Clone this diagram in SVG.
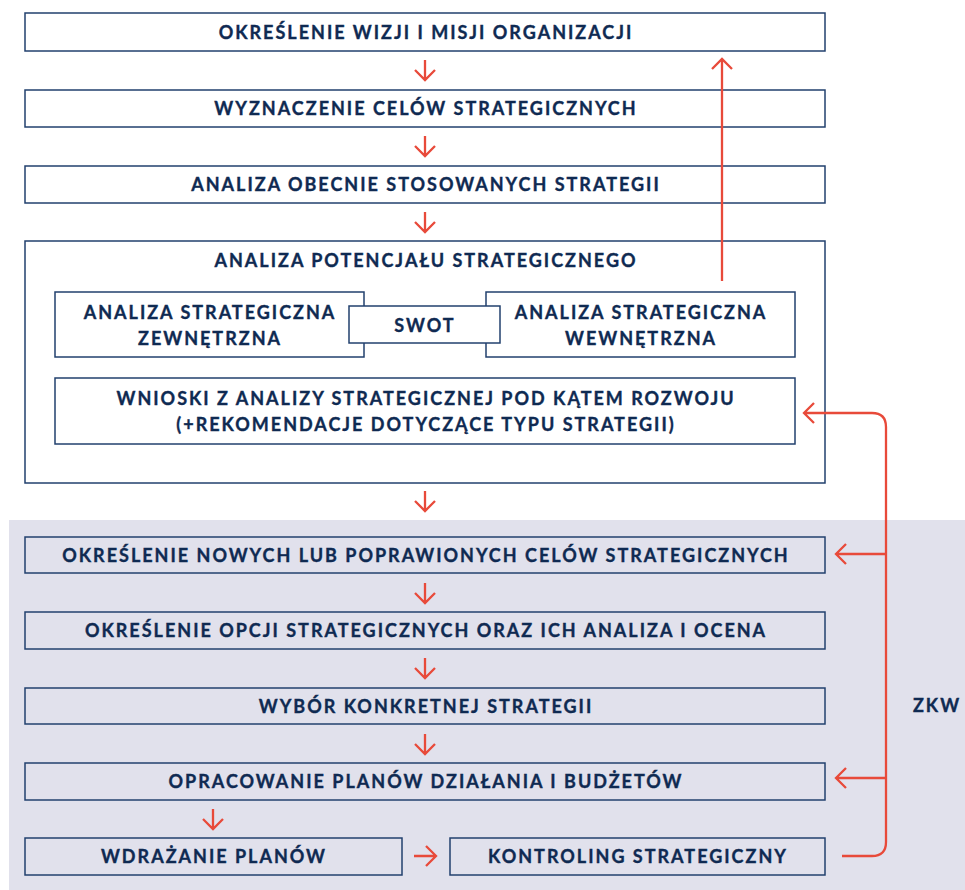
<svg xmlns="http://www.w3.org/2000/svg" width="965" height="890" viewBox="0 0 965 890">
<style>
.box{fill:#fff;stroke:#22406e;stroke-width:1.5}
.sbox{fill:#e1e1ec;stroke:#22406e;stroke-width:1.5}
.t{font-family:Lato,"Liberation Sans",sans-serif;font-weight:bold;font-size:18px;letter-spacing:2px;fill:#0f2a52;stroke:#0f2a52;stroke-width:0.35;text-anchor:middle}
.a{fill:none;stroke:#e84a3a;stroke-width:2.3;stroke-linecap:butt}
</style>
<rect x="9" y="520" width="956" height="370" fill="#e1e1ec"/>
<g id="n1"><rect class="box" x="25" y="13" width="800" height="38"/><text class="t" x="426" y="38.5">OKREŚLENIE WIZJI I MISJI ORGANIZACJI</text></g>
<g id="n2"><rect class="box" x="25" y="90" width="800" height="37"/><text class="t" x="426" y="114.5">WYZNACZENIE CELÓW STRATEGICZNYCH</text></g>
<g id="n3"><rect class="box" x="25" y="166" width="800" height="37"/><text class="t" x="426" y="190.5">ANALIZA OBECNIE STOSOWANYCH STRATEGII</text></g>
<g id="n4"><rect class="box" x="25" y="241" width="800" height="242"/><text class="t" x="426" y="266.5">ANALIZA POTENCJAŁU STRATEGICZNEGO</text></g>
<g id="n5"><rect class="box" x="55" y="292" width="309" height="65"/><text class="t" x="210" y="318.5">ANALIZA STRATEGICZNA</text><text class="t" x="210" y="344.5">ZEWNĘTRZNA</text></g>
<g id="n6"><rect class="box" x="486" y="292" width="309" height="65"/><text class="t" x="641" y="318.5">ANALIZA STRATEGICZNA</text><text class="t" x="641" y="344.5">WEWNĘTRZNA</text></g>
<g id="n7"><rect class="box" x="349" y="306" width="151" height="37"/><text class="t" x="425" y="331.5">SWOT</text></g>
<g id="n8"><rect class="box" x="55" y="378" width="740" height="66"/><text class="t" x="426" y="404.5">WNIOSKI Z ANALIZY STRATEGICZNEJ POD KĄTEM ROZWOJU</text><text class="t" x="426" y="430.5">(+REKOMENDACJE DOTYCZĄCE TYPU STRATEGII)</text></g>
<g id="n9"><rect class="sbox" x="25" y="537" width="800" height="36"/><text class="t" x="426" y="561.5">OKREŚLENIE NOWYCH LUB POPRAWIONYCH CELÓW STRATEGICZNYCH</text></g>
<g id="n10"><rect class="sbox" x="25" y="612" width="800" height="37"/><text class="t" x="426" y="636.5">OKREŚLENIE OPCJI STRATEGICZNYCH ORAZ ICH ANALIZA I OCENA</text></g>
<g id="n11"><rect class="sbox" x="25" y="688" width="800" height="36"/><text class="t" x="426" y="712.5">WYBÓR KONKRETNEJ STRATEGII</text></g>
<g id="n12"><rect class="sbox" x="25" y="763" width="800" height="37"/><text class="t" x="426" y="787.5">OPRACOWANIE PLANÓW DZIAŁANIA I BUDŻETÓW</text></g>
<g id="n13"><rect class="sbox" x="25" y="838" width="377" height="37"/><text class="t" x="214" y="862.5">WDRAŻANIE PLANÓW</text></g>
<g id="n14"><rect class="sbox" x="450" y="838" width="375" height="37"/><text class="t" x="638" y="862.5">KONTROLING STRATEGICZNY</text></g>
<g id="zkw"><text class="t" x="937" y="711.5">ZKW</text></g>
<g id="connectors">
<path class="a" d="M425 60V80M415 70L425 80L435 70"/>
<path class="a" d="M425 136V156M415 146L425 156L435 146"/>
<path class="a" d="M425 212V232M415 222L425 232L435 222"/>
<path class="a" d="M425 491V511M415 501L425 511L435 501"/>
<path class="a" d="M425 583V603M415 593L425 603L435 593"/>
<path class="a" d="M425 658V678M415 668L425 678L435 668"/>
<path class="a" d="M425 734V754M415 744L425 754L435 744"/>
<path class="a" d="M213 809V829M203 819L213 829L223 819"/>
<path class="a" d="M414 856H436M426 846L436 856L426 866"/>
<path class="a" d="M722 281V59M712 69L722 59L732 69"/>
<path class="a" d="M842 856H872Q886 856 886 842V427Q886 413 872 413H804M814 403L804 413L814 423"/>
<path class="a" d="M886 554H836M846 544L836 554L846 564"/>
<path class="a" d="M886 778H836M846 768L836 778L846 788"/>
</g>
</svg>
